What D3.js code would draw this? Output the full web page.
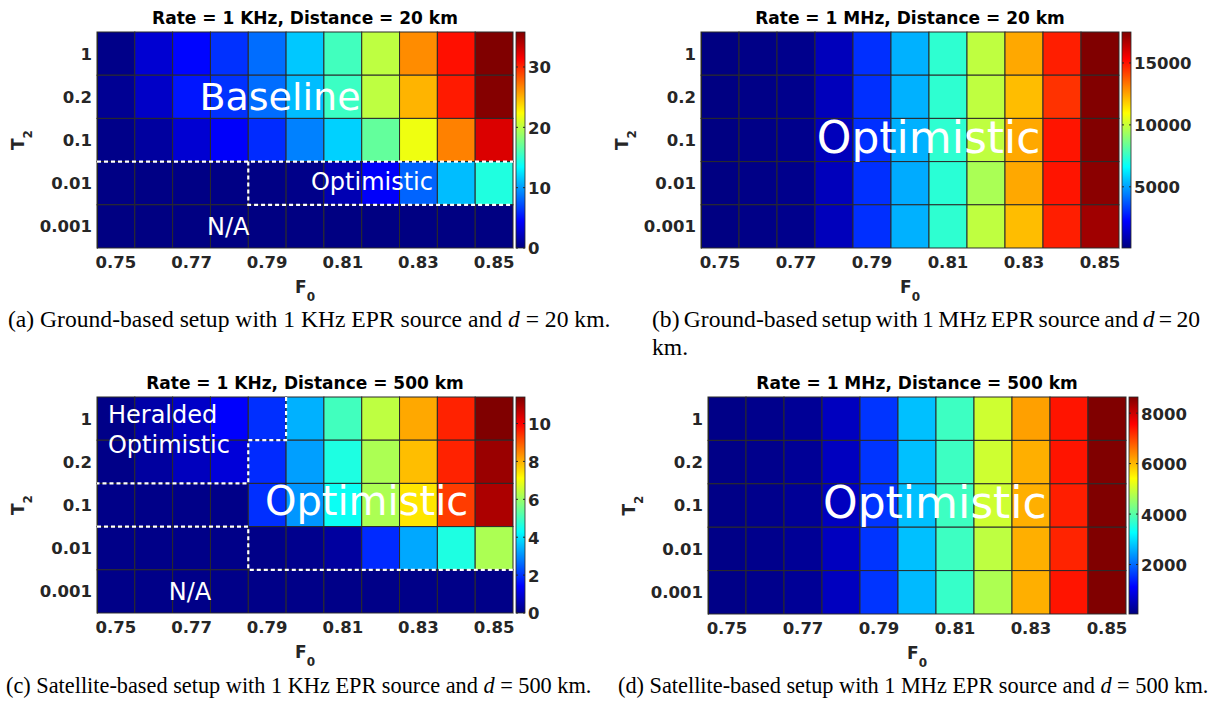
<!DOCTYPE html>
<html>
<head>
<meta charset="utf-8">
<script src="https://cdn.jsdelivr.net/npm/d3@7"></script>
<style>
  body { margin: 0; background: #fff; }
  svg { display: block; }
</style>
</head>
<body>
<div id="chart"></div>
<script>
// axes categories
const f0Values = ["0.75", "0.76", "0.77", "0.78", "0.79", "0.80", "0.81", "0.82", "0.83", "0.84", "0.85"];
const f0TickLabels = ["0.75", "0.77", "0.79", "0.81", "0.83", "0.85"];
const t2Values = ["1", "0.2", "0.1", "0.01", "0.001"];

// rows follow t2Values (top -> bottom), columns follow f0Values
const rate1kDist20 = [
  [0.35, 2.9, 4.6, 6.2, 8.3, 11.5, 15.7, 20.1, 26.4, 30.8, 35.8],
  [0.7, 2.5, 5.2, 6.2, 8.3, 11.1, 15.5, 20.1, 25.0, 30.4, 35.6],
  [0.35, 1.1, 2.9, 4.3, 6.0, 9.0, 11.8, 16.9, 21.8, 26.8, 32.6],
  [0.2, 0.2, 0.2, 0.2, 0.2, 0.35, 1.8, 4.3, 8.0, 11.1, 14.5],
  [0.1, 0.1, 0.1, 0.1, 0.1, 0.1, 0.1, 0.1, 0.1, 0.1, 0.1]
];
const rate1mDist20 = [
  [100, 190, 270, 1070, 3040, 5270, 7390, 9860, 12450, 14800, 17500],
  [100, 190, 270, 1070, 3040, 5270, 7390, 9860, 12090, 14470, 17450],
  [100, 190, 270, 1070, 3040, 5270, 7390, 9860, 12450, 14970, 17450],
  [100, 190, 270, 1070, 3040, 5170, 7300, 9500, 12450, 14970, 17300],
  [100, 190, 270, 1070, 3040, 5270, 7390, 9860, 12090, 14800, 16940]
];
const rate1kDist500 = [
  [0.1, 0.45, 0.8, 1.4, 1.95, 3.4, 5.0, 6.4, 8.1, 9.6, 11.4],
  [0.1, 0.35, 0.7, 1.0, 1.9, 3.2, 4.6, 6.2, 7.85, 9.6, 11.1],
  [0.1, 0.1, 0.1, 0.1, 1.95, 3.1, 4.4, 6.2, 7.4, 9.3, 10.9],
  [0.1, 0.1, 0.1, 0.1, 0.1, 0.15, 0.35, 1.9, 3.3, 4.6, 6.2],
  [0.1, 0.1, 0.1, 0.1, 0.1, 0.1, 0.1, 0.1, 0.1, 0.1, 0.1]
];
const rate1mDist500 = [
  [100, 145, 230, 575, 1550, 2730, 3780, 5000, 6220, 7400, 8640],
  [100, 145, 230, 575, 1550, 2730, 3780, 5000, 6090, 7400, 8640],
  [100, 145, 230, 575, 1550, 2730, 3780, 5000, 6090, 7310, 8640],
  [100, 145, 230, 575, 1550, 2730, 3780, 4870, 6090, 7270, 8640],
  [100, 145, 230, 575, 1550, 2680, 3720, 4720, 6090, 7400, 8640]
];

// colour limits and colorbar ticks
const clim1kDist20 = [0, 35.8];
const clim1mDist20 = [60, 17500];
const clim1kDist500 = [0, 11.4];
const clim1mDist500 = [40, 8640];
const cbarTicks1kDist20 = [0, 10, 20, 30];
const cbarTicks1mDist20 = [5000, 10000, 15000];
const cbarTicks1kDist500 = [0, 2, 4, 6, 8, 10];
const cbarTicks1mDist500 = [2000, 4000, 6000, 8000];

const titles = [
  "Rate = 1 KHz, Distance = 20 km",
  "Rate = 1 MHz, Distance = 20 km",
  "Rate = 1 KHz, Distance = 500 km",
  "Rate = 1 MHz, Distance = 500 km"
];

// matlab jet
function jet(t) {
  t = Math.max(0, Math.min(1, t));
  const c = v => Math.round(255 * Math.max(0, Math.min(1, v)));
  const r = c(1.5 - Math.abs(4 * t - 3));
  const g = c(1.5 - Math.abs(4 * t - 2));
  const b = c(1.5 - Math.abs(4 * t - 1));
  return `rgb(${r},${g},${b})`;
}

const W = 1210, H = 708;
const sans = "'DejaVu Sans', Verdana, sans-serif";
const serif = "'Liberation Serif', 'Times New Roman', serif";
const axisColor = "#262626";

const svg = d3.select("#chart").append("svg")
  .attr("width", W).attr("height", H);
const defs = svg.append("defs");

// layout + annotations (annotation positions in grid units: col, row)
const panels = [
  {
    values: rate1kDist20, clim: clim1kDist20, ticks: cbarTicks1kDist20, title: titles[0],
    box: { x: 97, y: 32, w: 416, h: 216 },
    notes: [
      { text: "Baseline", col: 4.84, row: 1.81, size: 38, anchor: "middle" },
      { text: "Optimistic", col: 7.27, row: 3.66, size: 24, anchor: "middle" },
      { text: "N/A", col: 3.47, row: 4.70, size: 24, anchor: "middle" }
    ],
    borders: [
      [[0, 3], [11, 3]],
      [[4, 3], [4, 4], [11, 4]]
    ]
  },
  {
    values: rate1mDist20, clim: clim1mDist20, ticks: cbarTicks1mDist20, title: titles[1],
    box: { x: 701, y: 32, w: 418, h: 216 },
    notes: [
      { text: "Optimistic", col: 5.99, row: 2.80, size: 44, anchor: "middle" }
    ],
    borders: []
  },
  {
    values: rate1kDist500, clim: clim1kDist500, ticks: cbarTicks1kDist500, title: titles[2],
    box: { x: 97, y: 397, w: 416, h: 216 },
    notes: [
      { text: "Heralded", col: 0.29, row: 0.60, size: 24, anchor: "start" },
      { text: "Optimistic", col: 0.29, row: 1.30, size: 24, anchor: "start" },
      { text: "Optimistic", col: 7.13, row: 2.73, size: 40, anchor: "middle" },
      { text: "N/A", col: 2.46, row: 4.70, size: 24, anchor: "middle" }
    ],
    borders: [
      [[5, 0], [5, 1], [4, 1], [4, 2], [0, 2]],
      [[0, 3], [4, 3], [4, 4], [11, 4]]
    ]
  },
  {
    values: rate1mDist500, clim: clim1mDist500, ticks: cbarTicks1mDist500, title: titles[3],
    box: { x: 708, y: 397, w: 418, h: 217 },
    notes: [
      { text: "Optimistic", col: 5.97, row: 2.79, size: 44, anchor: "middle" }
    ],
    borders: []
  }
];

// colorbar gradient (shared)
const grad = defs.append("linearGradient").attr("id", "jetGrad")
  .attr("x1", 0).attr("y1", 1).attr("x2", 0).attr("y2", 0);
d3.range(0, 65).forEach(i => {
  grad.append("stop").attr("offset", i / 64).attr("stop-color", jet(i / 64));
});

panels.forEach((p, pi) => {
  const { x, y, w, h } = p.box;
  const g = svg.append("g");

  const xScale = d3.scaleBand().domain(f0Values).range([x, x + w]);
  const yScale = d3.scaleBand().domain(t2Values).range([y, y + h]);
  const gx = d3.scaleLinear().domain([0, f0Values.length]).range([x, x + w]);
  const gy = d3.scaleLinear().domain([0, t2Values.length]).range([y, y + h]);
  const norm = d3.scaleLinear().domain(p.clim).range([0, 1]).clamp(true);

  // cells
  const cells = [];
  p.values.forEach((row, ri) => row.forEach((v, ci) => cells.push({ t2: t2Values[ri], f0: f0Values[ci], v })));
  g.append("g").selectAll("rect").data(cells).enter().append("rect")
    .attr("x", d => xScale(d.f0))
    .attr("y", d => yScale(d.t2))
    .attr("width", xScale.bandwidth())
    .attr("height", yScale.bandwidth())
    .attr("fill", d => jet(norm(d.v)))
    .attr("stroke", "#2a2a2a")
    .attr("stroke-width", 1);

  // x axis
  const xAxis = d3.axisBottom(xScale).tickValues(f0TickLabels).tickSize(0).tickPadding(0);
  const xg = g.append("g").attr("transform", `translate(0,${y + h})`).call(xAxis);
  xg.select(".domain").attr("stroke", "#9a9a9a").attr("stroke-width", 1);
  xg.selectAll("text").attr("y", 20).attr("dy", 0)
    .attr("font-family", sans).attr("font-weight", "bold").attr("font-size", 16.5).attr("fill", axisColor);

  // y axis
  const yAxis = d3.axisLeft(yScale).tickSize(0).tickPadding(0);
  const yg = g.append("g").attr("transform", `translate(${x},0)`).call(yAxis);
  yg.select(".domain").attr("stroke", axisColor).attr("stroke-width", 1);
  yg.selectAll("text").attr("x", -5).attr("dy", "0.36em")
    .attr("font-family", sans).attr("font-weight", "bold").attr("font-size", 16.5).attr("fill", axisColor);

  // axis labels
  const fl = g.append("text")
    .attr("x", x + w / 2).attr("y", y + h + 45)
    .attr("text-anchor", "middle")
    .attr("font-family", sans).attr("font-weight", "bold").attr("font-size", 17).attr("fill", axisColor);
  fl.append("tspan").text("F");
  fl.append("tspan").attr("dy", 8).attr("font-size", 12).text("0");

  const tl = g.append("text")
    .attr("transform", `translate(${x - 73},${y + h / 2}) rotate(-90)`)
    .attr("text-anchor", "middle")
    .attr("font-family", sans).attr("font-weight", "bold").attr("font-size", 17).attr("fill", axisColor);
  tl.append("tspan").text("T");
  tl.append("tspan").attr("dy", 8).attr("font-size", 12).text("2");

  // title
  g.append("text")
    .attr("x", x + w / 2).attr("y", y - 8)
    .attr("text-anchor", "middle")
    .attr("font-family", sans).attr("font-weight", "bold").attr("font-size", 17).attr("fill", "#000")
    .text(p.title);

  // dashed region borders
  const line = d3.line().x(d => gx(d[0])).y(d => gy(d[1]));
  g.append("g").selectAll("path").data(p.borders).enter().append("path")
    .attr("d", line)
    .attr("fill", "none")
    .attr("stroke", "#fff")
    .attr("stroke-width", 2.2)
    .attr("stroke-dasharray", "4,3");

  // annotations
  g.append("g").selectAll("text").data(p.notes).enter().append("text")
    .attr("x", d => gx(d.col)).attr("y", d => gy(d.row))
    .attr("text-anchor", d => d.anchor)
    .attr("font-family", sans).attr("font-size", d => d.size)
    .attr("fill", "#fff")
    .text(d => d.text);

  // colorbar
  const cx = x + w + 3, cw = 9;
  const cScale = d3.scaleLinear().domain(p.clim).range([y + h, y]);
  g.append("rect").attr("x", cx).attr("y", y).attr("width", cw).attr("height", h)
    .attr("fill", "url(#jetGrad)").attr("stroke", axisColor).attr("stroke-width", 0.8);
  const cAxis = d3.axisRight(cScale).tickValues(p.ticks).tickSize(0).tickPadding(0).tickFormat(d3.format("d"));
  const cg = g.append("g").attr("transform", `translate(${cx + cw},0)`).call(cAxis);
  cg.select(".domain").remove();
  cg.selectAll("text").attr("x", 3).attr("dy", "0.36em")
    .attr("font-family", sans).attr("font-weight", "bold").attr("font-size", 16.5).attr("fill", axisColor);
  g.append("g").selectAll("path").data(p.ticks).enter().append("path")
    .attr("d", d => `M${cx},${cScale(d)}h2M${cx + cw},${cScale(d)}h-2`)
    .attr("stroke", axisColor).attr("stroke-width", 1);
});

// captions
const captions = [
  { x: 8, y: 327, size: 23.6, head: "(a) Ground-based setup with 1 KHz EPR source and ", tail: " = 20 km." },
  { x: 652, y: 327, size: 23.6, head: "(b) Ground-based setup with 1 MHz EPR source and ", tail: " = 20", width: 548 },
  { x: 6, y: 693, size: 22.3, head: "(c) Satellite-based setup with 1 KHz EPR source and ", tail: " = 500 km." },
  { x: 618, y: 693, size: 22.3, head: "(d) Satellite-based setup with 1 MHz EPR source and ", tail: " = 500 km." }
];
captions.forEach(c => {
  const t = svg.append("text")
    .attr("x", c.x).attr("y", c.y)
    .attr("font-family", serif).attr("font-size", c.size).attr("fill", "#000")
    .attr("xml:space", "preserve");
  t.append("tspan").text(c.head);
  t.append("tspan").attr("font-style", "italic").text("d");
  t.append("tspan").text(c.tail);
  if (c.width) {
    const natural = t.node().getComputedTextLength();
    const gaps = (c.head + "d" + c.tail).split(" ").length - 1;
    t.attr("word-spacing", (c.width - natural) / gaps);
  }
});
svg.append("text")
  .attr("x", 652).attr("y", 355)
  .attr("font-family", serif).attr("font-size", 23.6).attr("fill", "#000")
  .text("km.");
</script>
</body>
</html>
